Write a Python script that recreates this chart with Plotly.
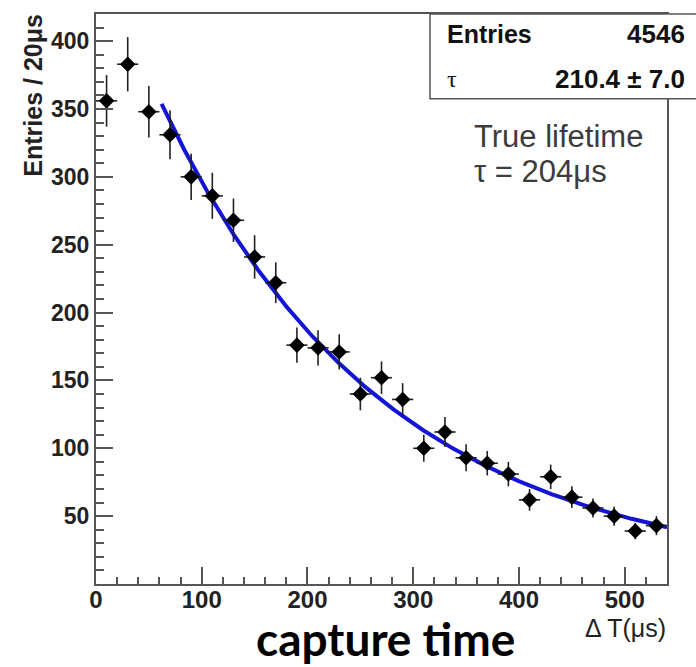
import numpy as np
import plotly.graph_objects as go

# ---- data ----
bin_centers = [10, 30, 50, 70, 90, 110, 130, 150, 170, 190, 210, 230, 250, 270,
               290, 310, 330, 350, 370, 390, 410, 430, 450, 470, 490, 510, 530]
counts = [356, 383, 348, 331, 300, 286, 268, 241, 222, 176, 174, 171, 140, 152,
          136, 100, 112, 93, 89, 81, 62, 79, 64, 56, 50, 39, 43]
count_errors = [19, 20, 19, 18, 17, 17, 16, 16, 15, 13, 13, 13, 12, 12,
                12, 10, 11, 10, 9, 9, 8, 9, 8, 7, 7, 6, 7]
bin_half_width = 10

# fitted exponential (parameters)
fit_A = 467.0
fit_tau = 210.4
fit_C = 6.0
fit_start, fit_end = 62, 540

x_ticks = [0, 100, 200, 300, 400, 500]
y_ticks = [50, 100, 150, 200, 250, 300, 350, 400]

stats_entries = "4546"
stats_tau = "210.4 ± 7.0"

# ---- figure ----
W, H = 696, 667
L, R, T, B = 96, 29, 12, 83
pw, ph = W - L - R, H - T - B


def px(xp):
    return (xp - L) / pw


def py(yp):
    return (H - B - yp) / ph


axis_col = "#555555"
font_fam = "Liberation Sans, Arial, sans-serif"

fit_x = np.linspace(fit_start, fit_end, 300)
fit_y = fit_A * np.exp(-fit_x / fit_tau) + fit_C

fig = go.Figure()
fig.add_trace(go.Scatter(
    x=fit_x, y=fit_y, mode="lines",
    line=dict(color="#1414d4", width=4),
    hoverinfo="skip", showlegend=False))
fig.add_trace(go.Scatter(
    x=bin_centers, y=counts, mode="markers",
    marker=dict(symbol="diamond", size=12, color="black"),
    error_x=dict(type="constant", value=bin_half_width, color="#222222",
                 thickness=1.6, width=0),
    error_y=dict(type="data", array=count_errors, color="#222222",
                 thickness=1.6, width=0),
    showlegend=False))

fig.update_xaxes(
    range=[0, 540], showgrid=False, zeroline=False,
    showline=True, linecolor=axis_col, linewidth=2, mirror=True,
    tickmode="array", tickvals=x_ticks,
    ticks="inside", ticklen=17, tickwidth=1.5, tickcolor=axis_col,
    ticklabelstandoff=-7,
    tickfont=dict(family=font_fam, size=24, color="#222222", weight="bold"),
    minor=dict(tickmode="linear", tick0=0, dtick=20, ticks="inside",
               ticklen=7, tickwidth=1.5, tickcolor=axis_col),
)
fig.update_yaxes(
    range=[0, 420], showgrid=False, zeroline=False,
    showline=True, linecolor=axis_col, linewidth=2, mirror=True,
    tickmode="array", tickvals=y_ticks,
    ticks="inside", ticklen=17, tickwidth=1.5, tickcolor=axis_col,
    tickfont=dict(family=font_fam, size=23, color="#222222", weight="bold"),
    minor=dict(tickmode="linear", tick0=0, dtick=10, ticks="inside",
               ticklen=8, tickwidth=1.5, tickcolor=axis_col),
)

# stats box
fig.add_shape(type="rect", xref="paper", yref="paper",
              x0=px(430), x1=px(705), y0=py(97), y1=py(12),
              line=dict(color=axis_col, width=1.5), fillcolor="white",
              layer="above")

ann = []
ann.append(dict(text="Entries", x=px(445), y=py(32), xanchor="left", yanchor="middle",
                font=dict(family=font_fam, size=25, color="#111111", weight="bold")))
ann.append(dict(text=stats_entries, x=px(687), y=py(32), xanchor="right", yanchor="middle",
                font=dict(family=font_fam, size=26, color="#111111", weight="bold")))
ann.append(dict(text="τ", x=px(445), y=py(77), xanchor="left", yanchor="middle",
                font=dict(family="Liberation Serif, serif", size=24, color="#111111")))
ann.append(dict(text=stats_tau, x=px(687), y=py(77), xanchor="right", yanchor="middle",
                font=dict(family=font_fam, size=26, color="#111111", weight="bold")))
ann.append(dict(text="True lifetime", x=px(472), y=py(135), xanchor="left", yanchor="middle",
                font=dict(family=font_fam, size=31, color="#3c3c3c")))
ann.append(dict(text="τ = 204μs", x=px(472), y=py(170), xanchor="left", yanchor="middle",
                font=dict(family=font_fam, size=31, color="#3c3c3c")))
ann.append(dict(text="Δ T(μs)", x=px(668), y=py(628), xanchor="right", yanchor="middle",
                font=dict(family=font_fam, size=25, color="#222222")))
ann.append(dict(text="Entries / 20μs", x=px(33), y=py(94), xanchor="center", yanchor="middle",
                textangle=-90,
                font=dict(family=font_fam, size=25, color="#222222", weight="bold")))
ann.append(dict(text="capture time", x=px(385), y=py(639), xanchor="center", yanchor="middle",
                font=dict(family="Lato, sans-serif", size=46, color="black", weight="bold")))

for a in ann:
    a.update(xref="paper", yref="paper", showarrow=False)
fig.update_layout(annotations=ann)

fig.update_layout(
    width=W, height=H,
    margin=dict(l=L, r=R, t=T, b=B, pad=0),
    paper_bgcolor="white", plot_bgcolor="white",
    showlegend=False,
)

fig.write_html("out.html",
               config={"displayModeBar": False},
               post_script="document.body.style.margin='0';"
                           "document.body.style.overflow='hidden';")
